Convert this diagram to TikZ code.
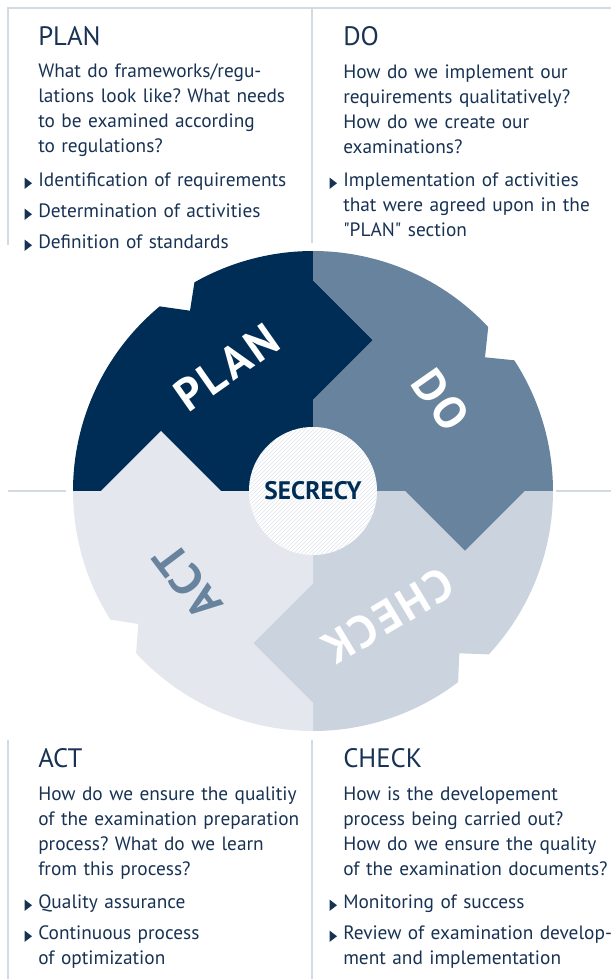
\documentclass[tikz,border=0pt]{standalone}
\usepackage{fontspec}
\setmainfont{PT Sans}[Ligatures=TeXOff]
\usetikzlibrary{patterns}

\definecolor{planblue}{RGB}{0,45,85}
\definecolor{doblue}{RGB}{104,131,158}
\definecolor{checkgrey}{RGB}{203,212,222}
\definecolor{actgrey}{RGB}{228,232,238}
\definecolor{textblue}{RGB}{24,50,84}
\definecolor{framegrey}{RGB}{210,218,228}
\definecolor{hatchgrey}{RGB}{226,230,236}

\tikzset{
  frameline/.style={draw=framegrey, line width=1.5pt},
  headtext/.style={anchor=base west, inner sep=0pt, text=textblue, font=\fontsize{20}{24}\selectfont},
  bodytext/.style={anchor=base west, inner sep=0pt, text=textblue, text width=215pt, align=left, font=\fontsize{14.5}{18.75}\selectfont},
  wheeltext/.style={inner sep=0pt, font=\bfseries\fontsize{34}{34}\selectfont\addfontfeature{LetterSpace=6}},
}
% small bullet arrow in front of a text line
\newcommand{\bullettri}[1]{\fill[textblue] (#1) ++(-13.5,-8.5) -- ++(0,11.5) -- ++(7.5,-5.75) -- cycle;}

\begin{document}
\frenchspacing
\begin{tikzpicture}[x=0.75pt,y=0.75pt,yscale=-1,xscale=1]
\useasboundingbox (0,0) rectangle (611,979);
% frame
\draw [frameline] (8,245) -- (8,8) -- (611,8) ;
\draw [frameline] (312,8) -- (312,243) ;
\draw [frameline] (8,491) -- (66,491) ;
\draw [frameline] (556,491) -- (611,491) ;
\draw [frameline] (8,740) -- (8,979) ;
\draw [frameline] (312,740) -- (312,979) ;
% wheel
\begin{scope}[shift={(313,491)},yscale=-1]
\fill [planblue] (0,0) -- (0,91) -- (60,151) -- (0,211) -- (90:240) arc [start angle=90, end angle=119.6, radius=240] -- (-123,180.3) -- (129.7:240) arc [start angle=129.7, end angle=180, radius=240] -- (-212,0) -- (-152,60) -- (-92,0) -- cycle ;
\fill [doblue] (0,0) -- (0,91) -- (60,151) -- (0,211) -- (90:240) arc [start angle=90, end angle=43.1, radius=240] -- (172,133.7) -- (33:240) arc [start angle=33, end angle=0, radius=240] -- (212,0) -- (152,-60) -- (92,0) -- cycle ;
\fill [checkgrey] (0,0) -- (92,0) -- (152,-60) -- (212,0) -- (0:240) arc [start angle=0, end angle=-42.9, radius=240] -- (146.3,-162.3) -- (-52.8:240) arc [start angle=-52.8, end angle=-90, radius=240] -- (0,-212) -- (-60,-152) -- (0,-92) -- cycle ;
\fill [actgrey] (0,0) -- (0,-92) -- (-60,-152) -- (0,-212) -- (-90:240) arc [start angle=-90, end angle=-137.5, radius=240] -- (-174.7,-133) -- (-147.6:240) arc [start angle=-147.6, end angle=-180, radius=240] -- (-212,0) -- (-152,60) -- (-92,0) -- cycle ;
\node (secrecy) at (0,0) [circle, minimum size=96pt, inner sep=0pt, preaction={fill=white}, pattern=north east lines, pattern color=hatchgrey, text=planblue, font=\bfseries\fontsize{19}{19}\selectfont] {SECRECY};
\node (plantag) at (125:151) [wheeltext, text=white, rotate=35] {PLAN};
\node (dotag) at (35.5:157) [wheeltext, text=white, rotate=-55] {DO};
\node (checktag) at (-59:146) [wheeltext, text=white, rotate=-149] {CHECK};
\node (acttag) at (216:155) [wheeltext, text=doblue, rotate=127] {ACT};
\end{scope}
% PLAN
\draw (38,45) node (planhead) [headtext] {PLAN};
\draw (38,77) node (plantext) [bodytext] {What do frameworks/regu-\\lations look like? What needs\\to be examined according\\to regulations?};
\draw (38,186) node (planitema) [bodytext] {Identification of requirements};
\draw (38,217) node (planitemb) [bodytext] {Determination of activities};
\draw (38,248) node (planitemc) [bodytext] {Definition of standards};
\bullettri{38,186}
\bullettri{38,217}
\bullettri{38,248}
% DO
\draw (343,45) node (dohead) [headtext] {DO};
\draw (343,78) node (dotext) [bodytext] {How do we implement our\\requirements qualitatively?\\How do we create our\\examinations?};
\draw (343,186) node (doitema) [bodytext] {Implementation of activities\\that were agreed upon in the\\"PLAN" section};
\bullettri{343,186}
% ACT
\draw (38,767) node (acthead) [headtext] {ACT};
\draw (38,800) node (acttext) [bodytext] {How do we ensure the qualitiy\\of the examination preparation\\process? What do we learn\\from this process?};
\draw (38,908) node (actitema) [bodytext] {Quality assurance};
\draw (38,939) node (actitemb) [bodytext] {Continuous process\\of optimization};
\bullettri{38,908}
\bullettri{38,939}
% CHECK
\draw (343,767) node (checkhead) [headtext] {CHECK};
\draw (343,800) node (checktext) [bodytext] {How is the developement\\process being carried out?\\How do we ensure the quality\\of the examination documents?};
\draw (343,908) node (checkitema) [bodytext] {Monitoring of success};
\draw (343,939) node (checkitemb) [bodytext] {Review of examination develop-\\ment and implementation};
\bullettri{343,908}
\bullettri{343,939}
\end{tikzpicture}
\end{document}
